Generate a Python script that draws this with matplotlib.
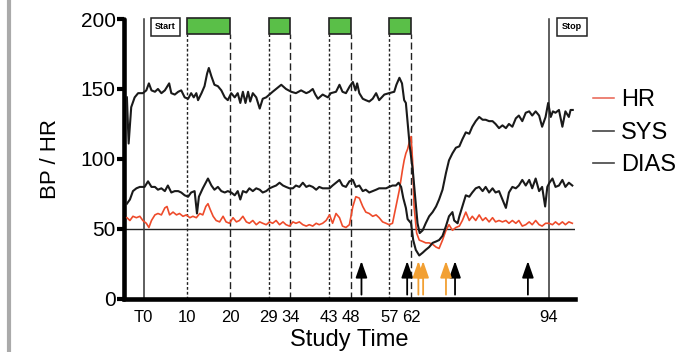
import numpy as np
import matplotlib
matplotlib.use('Agg')
import matplotlib.pyplot as plt
from matplotlib.patches import Rectangle
from matplotlib.lines import Line2D

plt.rcParams['font.family'] = ['Liberation Sans', 'DejaVu Sans']

# study time (x) and readings (y)
sys_t = [-3.9, -3.5, -2.9, -2.1, -1.3, -0.2, 0.6, 1.2, 1.8, 2.6, 3.3, 4.1, 4.9, 5.9, 6.4, 7.2, 8.0,
         8.7, 9.5, 10.3, 11.0, 11.6, 12.2, 12.6, 13.4, 14.1, 14.7, 15.1, 15.7, 16.4, 17.2, 18.0,
         18.8, 19.5, 20.3, 21.1, 21.8, 22.4, 23.0, 23.6, 24.2, 24.7, 25.3, 26.1, 26.9, 27.6, 28.4,
         29.9, 31.5, 31.9, 33.0, 34.2, 35.3, 36.5, 37.7, 38.4, 39.2, 39.8, 40.4, 41.5, 42.7, 43.4,
         44.6, 45.4, 46.1, 46.9, 47.8, 48.5, 49.1, 49.5, 50.0, 50.8, 51.5, 52.3, 53.1, 53.9, 54.6,
         55.8, 56.9, 58.1, 58.6, 59.3, 59.9, 60.4, 60.8, 61.2, 61.7, 62.4, 63.0, 63.5, 64.0, 64.7,
         65.4, 66.2, 67.0, 67.8, 68.5, 69.3, 70.1, 70.8, 71.6, 72.4, 73.2, 73.9, 74.7, 75.5, 76.2,
         77.0, 77.8, 78.6, 79.3, 80.1, 80.9, 81.6, 82.4, 83.2, 84.0, 84.7, 85.5, 86.3, 87.0, 87.8,
         88.6, 89.4, 90.1, 90.9, 91.7, 92.4, 93.2, 93.8, 94.4, 94.9, 95.5, 96.3, 97.1, 97.8, 98.6,
         99.0, 99.5]
sys_v = [144, 111, 137, 144, 147, 147, 149, 154, 149, 148, 150, 147, 149, 154, 147, 146, 148,
         149, 144, 143, 147, 144, 147, 142, 147, 152, 161, 165, 159, 153, 152, 149,
         144, 142, 147, 144, 147, 140, 148, 140, 148, 141, 147, 144, 136, 143, 144,
         148, 152, 153, 150, 148, 147, 149, 147, 148, 150, 146, 143, 146, 144, 147,
         148, 153, 148, 147, 152, 155, 149, 154, 147, 143, 142, 141, 143, 147, 142,
         146, 147, 148, 153, 158, 154, 142, 140, 126, 109, 92, 71, 54, 47, 49,
         54, 59, 62, 66, 71, 78, 90, 99, 104, 108, 109, 114, 119, 118, 123,
         127, 130, 128, 128, 127, 127, 125, 122, 124, 122, 125, 123, 129, 131, 127,
         133, 134, 131, 134, 131, 123, 130, 140, 130, 134, 133, 135, 123, 134, 130,
         135, 135]

dias_t = [-3.9, -3.2, -2.5, -1.7, -0.9, 0.2, 1.0, 1.8, 2.6, 3.3, 4.1, 4.9, 5.6, 6.4, 7.2, 8.0, 8.7,
          9.5, 10.3, 11.0, 11.8, 12.35, 12.8, 13.7, 14.4, 14.9, 15.7, 16.4, 17.2, 18.0, 18.8, 19.5,
          20.3, 21.1, 21.8, 22.4, 23.0, 23.8, 24.5, 25.3, 26.1, 26.9, 27.6, 28.4, 29.2, 29.9, 30.7,
          31.5, 32.3, 33.0, 33.8, 34.6, 35.3, 36.1, 36.9, 37.7, 38.4, 39.2, 40.0, 40.7, 41.5, 42.3,
          43.1, 43.8, 44.6, 45.4, 46.1, 46.9, 47.7, 48.5, 49.2, 50.0, 50.8, 51.5, 52.3, 53.1, 53.9,
          54.6, 55.4, 56.2, 56.9, 57.7, 58.5, 59.1, 59.7, 60.2, 60.8, 61.2, 62.0, 62.5, 63.1, 63.9,
          64.7, 65.4, 66.2, 67.0, 67.8, 68.5, 69.3, 70.1, 70.8, 71.6, 72.0, 72.8, 73.2, 73.9, 74.7,
          75.5, 76.2, 77.0, 77.8, 78.6, 79.3, 80.1, 80.9, 81.6, 82.4, 83.2, 84.0, 84.7, 85.5, 86.3,
          87.0, 87.8, 88.6, 89.4, 90.1, 90.9, 91.7, 92.4, 93.1, 93.6, 94.1, 94.8, 95.5, 96.3, 97.1,
          97.8, 98.6, 99.4]
dias_v = [68, 71, 77, 79, 80, 80, 84, 80, 80, 78, 79, 77, 81, 76, 77, 77, 76,
          74, 73, 76, 77, 61, 73, 79, 83, 86, 81, 78, 80, 77, 76, 77,
          76, 74, 77, 71, 77, 76, 79, 77, 79, 78, 76, 77, 79, 80, 81,
          83, 81, 80, 79, 79, 81, 80, 83, 80, 81, 80, 78, 80, 79, 79,
          79, 81, 83, 85, 81, 80, 84, 85, 80, 81, 77, 78, 76, 77, 78,
          79, 79, 79, 80, 81, 81, 83, 80, 72, 65, 57, 54, 42, 35, 31,
          33, 35, 37, 40, 41, 42, 45, 52, 59, 62, 56, 54, 59, 66, 74,
          73, 76, 79, 80, 77, 80, 76, 79, 76, 77, 71, 65, 76, 80, 79,
          81, 85, 81, 85, 79, 86, 77, 80, 66, 80, 83, 86, 80, 81, 85,
          80, 83, 81]

hr_t = [-3.9, -3.2, -2.5, -1.7, -0.9, -0.2, 0.6, 1.2, 1.8, 2.6, 3.3, 4.1, 4.9, 5.4, 6.0, 6.8, 7.6,
        8.3, 9.1, 9.9, 10.7, 11.4, 12.2, 13.0, 13.7, 14.4, 14.9, 15.4, 16.1, 16.8, 17.6, 18.4,
        19.1, 19.9, 20.7, 21.5, 22.2, 23.0, 23.8, 24.5, 25.3, 26.1, 26.9, 27.6, 28.4, 29.2, 29.9,
        30.7, 31.5, 32.3, 33.0, 33.8, 34.6, 35.3, 36.1, 36.9, 37.7, 38.4, 39.2, 40.0, 40.7, 41.5,
        42.3, 43.1, 43.8, 44.6, 45.4, 46.1, 46.9, 47.7, 48.5, 49.2, 50.0, 50.8, 51.5, 52.3, 53.1,
        53.9, 54.6, 55.4, 56.2, 56.9, 57.7, 58.5, 59.3, 60.0, 60.4, 60.8, 61.2, 61.6, 62.0, 62.35,
        62.7, 63.3, 63.9, 64.7, 65.4, 66.2, 67.0, 67.8, 68.5, 69.3, 70.1, 70.8, 71.6, 72.4, 73.2,
        73.9, 74.7, 75.5, 76.2, 77.0, 77.8, 78.6, 79.3, 80.1, 80.9, 81.6, 82.4, 83.2, 84.0, 84.7,
        85.5, 86.3, 87.0, 87.8, 88.6, 89.4, 90.1, 90.9, 91.7, 92.4, 93.2, 94.0, 94.8, 95.5, 96.3,
        97.1, 97.8, 98.6, 99.4]
hr_v = [58, 56, 59, 58, 59, 56, 54, 51, 56, 60, 61, 60, 65, 66, 60, 62, 60,
        61, 59, 60, 58, 59, 58, 61, 60, 66, 68, 64, 59, 56, 55, 59,
        55, 54, 58, 55, 56, 59, 55, 54, 56, 53, 55, 54, 53, 55, 54,
        56, 53, 55, 53, 52, 55, 54, 55, 53, 52, 53, 52, 54, 53, 54,
        56, 60, 54, 61, 58, 52, 51, 53, 66, 73, 72, 66, 62, 61, 59,
        60, 58, 55, 54, 53, 54, 66, 78, 92, 99, 104, 107, 112, 116, 99,
        66, 47, 42, 41, 40, 40, 39, 37, 36, 42, 49, 53, 49, 51, 52,
        56, 62, 56, 59, 56, 60, 56, 58, 55, 58, 55, 56, 55, 56, 54,
        56, 54, 56, 52, 53, 55, 53, 56, 53, 52, 54, 54, 53, 55, 53,
        55, 53, 55, 54]

tick_pos = [0, 10, 20, 29, 34, 43, 48, 57, 62, 94]
tick_lab = ['T0', '10', '20', '29', '34', '43', '48', '57', '62', '94']
periods = [(10, 20), (29, 34), (43, 48), (57, 62)]
black_arrows = [50.5, 61.1, 72.2, 89.1]
orange_arrows = [63.7, 64.8, 70.1]

fig = plt.figure(figsize=(6.96, 3.52), dpi=100)
ax = fig.add_axes([0.178, 0.151, 0.648, 0.795])
ax.set_xlim(-4.6, 100)
ax.set_ylim(0, 200)

for s in ['top', 'right']:
    ax.spines[s].set_visible(False)
for s in ['left', 'bottom']:
    ax.spines[s].set_linewidth(3.3)
ax.spines['left'].set_capstyle('round')

ax.axhline(50, color='#222222', lw=1)
for x in [0, 94]:
    ax.plot([x, x], [0, 200], color='#333333', lw=1.1, clip_on=False)
for a, b in periods:
    ax.plot([a, a], [0, 189], color='#222222', lw=1, ls=(0, (2, 1.5)))
    ax.plot([b, b], [0, 189], color='#222222', lw=1, ls=(0, (5, 2.5)))
    ax.add_patch(Rectangle((a, 189), b - a, 12, facecolor='#5abf48', edgecolor='#222222',
                           lw=1.2, clip_on=False, zorder=3))

ax.add_patch(Rectangle((1.6, 188), 6.7, 13, facecolor='white', edgecolor='#222222', lw=1.1,
                       clip_on=False, zorder=3))
ax.text(4.95, 194.5, 'Start', ha='center', va='center', fontsize=6.5, weight='bold', zorder=4)
ax.add_patch(Rectangle((95.8, 188), 7, 13, facecolor='white', edgecolor='#222222', lw=1.1,
                       clip_on=False, zorder=3))
ax.text(99.3, 194.5, 'Stop', ha='center', va='center', fontsize=6.5, weight='bold', zorder=4,
        clip_on=False)

ax.plot(hr_t, hr_v, color='#ee4b2b', lw=1.2, zorder=5)
ax.plot(sys_t, sys_v, color='#1a1a1a', lw=1.5, zorder=5)
ax.plot(dias_t, dias_v, color='#1a1a1a', lw=1.5, zorder=5)

for x in black_arrows:
    ax.annotate('', xy=(x, 27), xytext=(x, 3),
                arrowprops=dict(arrowstyle='-|>,head_length=1.0,head_width=0.35',
                                color='black', lw=1.3, shrinkA=0, shrinkB=0))
for x in orange_arrows:
    ax.annotate('', xy=(x, 27), xytext=(x, 3),
                arrowprops=dict(arrowstyle='-|>,head_length=1.0,head_width=0.35',
                                color='#f2a033', lw=1.3, shrinkA=0, shrinkB=0))

ax.set_yticks([0, 50, 100, 150, 200])
ax.tick_params(axis='y', length=5, width=3, labelsize=15, pad=1)
ax.set_xticks(tick_pos)
ax.set_xticklabels(tick_lab)
ax.tick_params(axis='x', length=0, labelsize=12, pad=8)
ax.set_ylabel('BP / HR', fontsize=16, labelpad=14)
ax.set_xlabel('Study Time', fontsize=17, labelpad=3)

handles = [Line2D([], [], color='#e86050', lw=1.1),
           Line2D([], [], color='#444444', lw=1.2),
           Line2D([], [], color='#444444', lw=1.2)]
fig.legend(handles, ['HR', 'SYS', 'DIAS'], loc='upper left', bbox_to_anchor=(0.835, 0.78),
           frameon=False, fontsize=17, handlelength=0.9, handletextpad=0.3, labelspacing=0.45,
           borderpad=0)

fig.add_artist(Line2D([0.013, 0.013], [0, 1], color='#aaaaaa', lw=3))

fig.savefig('out.png', dpi=100)
